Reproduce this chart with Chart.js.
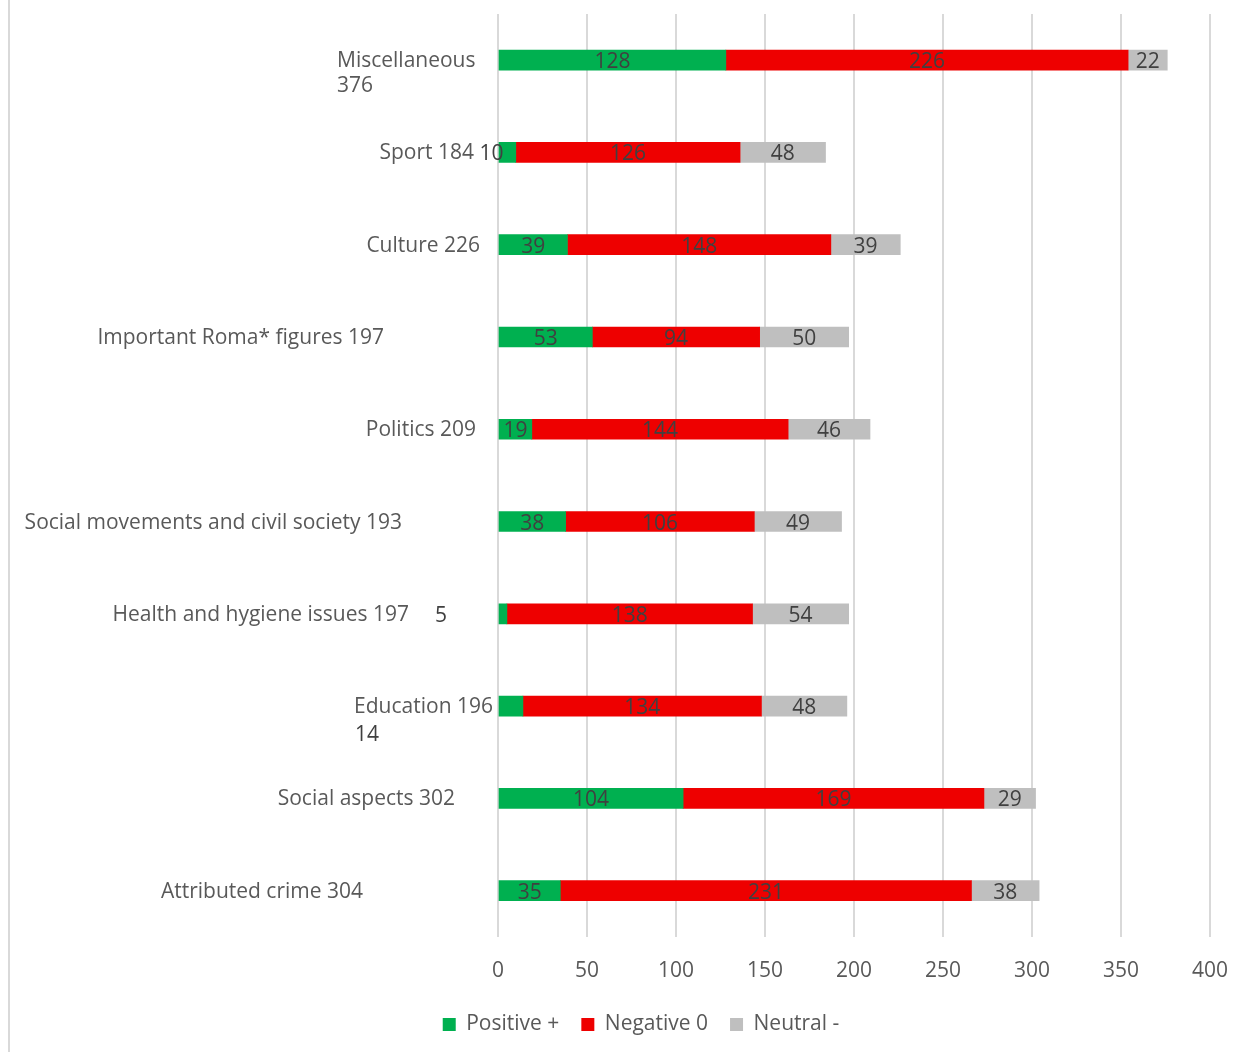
<!DOCTYPE html>
<html>
<head>
<meta charset="utf-8">
<script src="https://cdn.jsdelivr.net/npm/chart.js@4/dist/chart.umd.min.js"></script>
<style>
    body { margin: 0; background: #fff; }
    #wrap { position: relative; width: 1246px; height: 1052px; }
    #edge { position: absolute; left: 8px; top: 0; width: 2px; height: 1052px; background: #d9d9d9; }
</style>
</head>
<body>
<div id="wrap">
    <div id="edge"></div>
    <canvas id="canvas" width="1246" height="1052"></canvas>
</div>
<script>
// categories (first one wraps on two lines as in the original)
var categorias = [
    ['Miscellaneous', '376'],
    'Sport 184',
    'Culture 226',
    'Important Roma* figures 197',
    'Politics 209',
    'Social movements and civil society 193',
    'Health and hygiene issues 197',
    'Education 196',
    'Social aspects 302',
    'Attributed crime 304'
];
var positivos = [128, 10, 39, 53, 19, 38, 5, 14, 104, 35];
var negativos = [226, 126, 148, 94, 144, 106, 138, 134, 169, 231];
var neutros = [22, 48, 39, 50, 46, 49, 54, 48, 29, 38];
var ticksX = [0, 50, 100, 150, 200, 250, 300, 350, 400];

// where each category label sits, left of the plot (px from plot left)
var labelDx = [-161, -24, -18, -114, -22, -96, -89, -5, -43, -135];
var labelAlign = ['left', 'right', 'right', 'right', 'right', 'right', 'right', 'right', 'right', 'right'];
// data labels that were moved by hand: "dataset,index": [dx, dy]
var labelShift = { '0,1': [-16, 0], '0,6': [-62, 0], '0,7': [-144, 27] };

var fonte = '"Open Sans", Lato, sans-serif';
var tamanho = 21;

function createDataset(color, name, dados) {
    return {
        label: name,
        backgroundColor: color,
        borderColor: color,
        borderWidth: 0,
        data: dados,
        barThickness: 20
    }
}

var rotulosCategorias = {
    id: 'rotulosCategorias',
    afterDraw: function (chart) {
        var ctx = chart.ctx;
        var y = chart.scales.y;
        var left = chart.chartArea.left;
        ctx.save();
        ctx.font = tamanho + 'px ' + fonte;
        ctx.fillStyle = '#595959';
        ctx.textBaseline = 'middle';
        categorias.forEach(function (cat, i) {
            var py = y.getPixelForTick(i) + 1;
            var linhas = Array.isArray(cat) ? cat : [cat];
            ctx.textAlign = labelAlign[i];
            linhas.forEach(function (l, k) {
                ctx.fillText(l, left + labelDx[i], py + k * 25);
            });
        });
        ctx.restore();
    }
};

var rotulosDados = {
    id: 'rotulosDados',
    afterDatasetsDraw: function (chart) {
        var ctx = chart.ctx;
        ctx.save();
        ctx.font = tamanho + 'px ' + fonte;
        ctx.fillStyle = '#404040';
        ctx.textAlign = 'center';
        ctx.textBaseline = 'middle';
        chart.data.datasets.forEach(function (ds, d) {
            var meta = chart.getDatasetMeta(d);
            meta.data.forEach(function (bar, i) {
                var s = labelShift[d + ',' + i] || [0, 0];
                var cx = (bar.x + bar.base) / 2 + s[0];
                ctx.fillText(String(ds.data[i]), cx, bar.y + 2 + s[1]);
            });
        });
        ctx.restore();
    }
};

// the legend in the original sits a bit right of the centre
var moveLegenda = {
    id: 'moveLegenda',
    afterLayout: function (chart) {
        chart.legend.left += 36;
        chart.legend.right += 36;
    }
};

var config = {
    type: 'bar',
    data: {
        labels: categorias,
        datasets: [
            createDataset('#00b050', 'Positive +', positivos),
            createDataset('#ee0000', 'Negative 0', negativos),
            createDataset('#bfbfbf', 'Neutral -', neutros)
        ]
    },
    options: {
        indexAxis: 'y',
        responsive: false,
        animation: false,
        layout: { padding: { top: 14, right: 36, bottom: 7, left: 0 } },
        scales: {
            x: {
                stacked: true,
                min: 0,
                max: 400,
                afterBuildTicks: function (scale) {
                    scale.ticks = ticksX.map(function (v) { return { value: v }; });
                },
                afterFit: function (scale) {
                    scale.height -= 14;
                    scale.paddingRight = 0;
                    scale.paddingLeft = 0;
                },
                grid: { color: '#d9d9d9', lineWidth: 2, drawTicks: false },
                border: { display: false },
                ticks: {
                    color: '#595959',
                    font: { family: fonte, size: tamanho },
                    padding: 22
                }
            },
            y: {
                stacked: true,
                grid: { display: false },
                border: { display: false },
                ticks: { display: false },
                afterFit: function (scale) { scale.width = 498; }
            }
        },
        plugins: {
            legend: {
                position: 'bottom',
                labels: {
                    boxWidth: 13,
                    boxHeight: 13,
                    padding: 22,
                    color: '#595959',
                    font: { family: fonte, size: tamanho }
                }
            },
            tooltip: { enabled: false }
        }
    },
    plugins: [rotulosCategorias, rotulosDados, moveLegenda]
};

var ctx = document.getElementById('canvas').getContext('2d');
window.myBar = new Chart(ctx, config);
</script>
</body>
</html>
